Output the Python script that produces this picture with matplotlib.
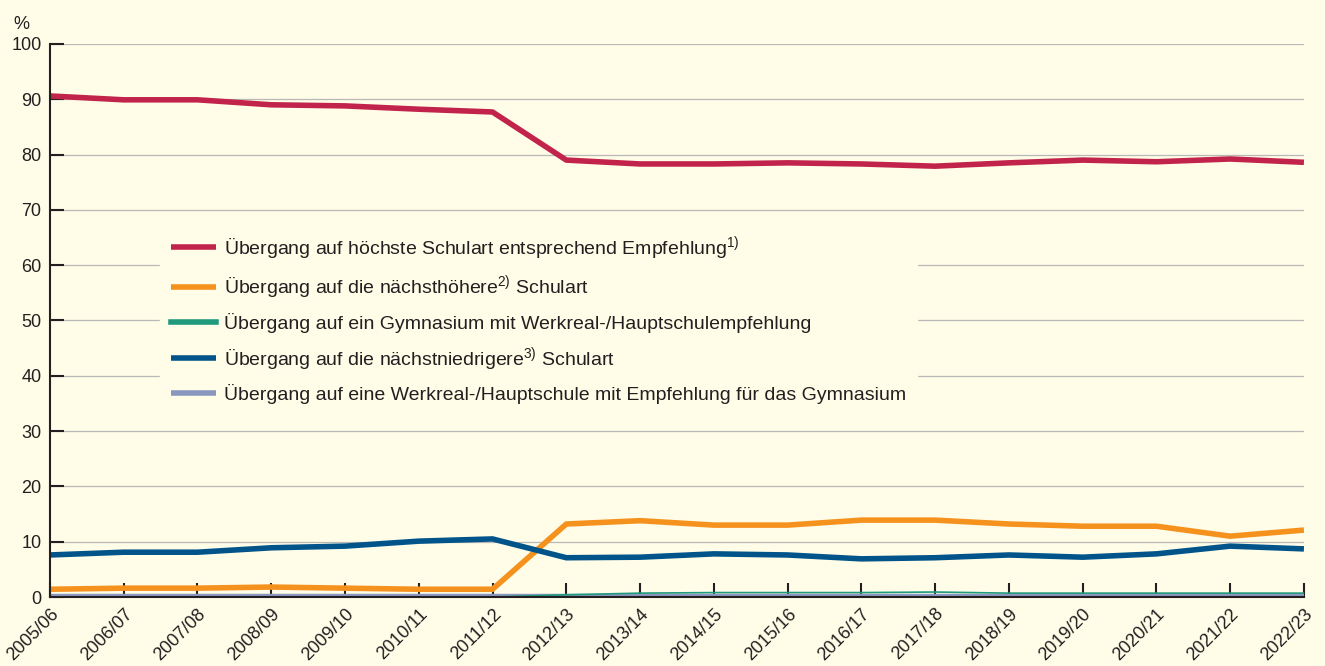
import matplotlib
matplotlib.use("Agg")
import matplotlib.pyplot as plt
from matplotlib import font_manager

BG, INK, GRID = "#fffde8", "#231f20", "#b8b8b8"
RED, ORANGE, GREEN, BLUE, PURPLE = "#c1234a", "#f5921e", "#1f9a7c", "#00548a", "#8a97bf"

names = {f.name for f in font_manager.fontManager.ttflist}
fam = ["Liberation Sans Narrow", "Liberation Sans", "DejaVu Sans"]
fam = [f for f in fam if f in names] or ["DejaVu Sans"]
plt.rcParams.update({"font.family": fam, "mathtext.default": "regular",
                     "figure.facecolor": BG, "axes.facecolor": BG, "savefig.facecolor": BG,
                     "text.color": INK, "xtick.color": INK, "ytick.color": INK})

YEARS = ["2005/06", "2006/07", "2007/08", "2008/09", "2009/10", "2010/11", "2011/12", "2012/13",
         "2013/14", "2014/15", "2015/16", "2016/17", "2017/18", "2018/19", "2019/20", "2020/21",
         "2021/22", "2022/23"]
hoechste = [90.6, 89.9, 89.9, 89.0, 88.8, 88.2, 87.7, 79.0, 78.3, 78.3, 78.5, 78.3, 77.9, 78.5,
            79.0, 78.7, 79.2, 78.6]
hoehere = [1.4, 1.6, 1.6, 1.8, 1.6, 1.4, 1.4, 13.2, 13.8, 13.0, 13.0, 13.9, 13.9, 13.2, 12.8,
           12.8, 11.0, 12.1]
gym_wrs = [0.0, 0.0, 0.0, 0.0, 0.0, 0.0, 0.0, 0.4, 0.7, 0.8, 0.8, 0.8, 0.9, 0.7, 0.7, 0.7,
           0.7, 0.7]
niedrigere = [7.6, 8.1, 8.1, 8.9, 9.2, 10.1, 10.5, 7.1, 7.2, 7.8, 7.6, 6.9, 7.1, 7.6, 7.2, 7.8,
              9.2, 8.7]
wrs_gym = [0.3, 0.3, 0.3, 0.3, 0.3, 0.3, 0.3, 0.3, 0.3, 0.3, 0.3, 0.3, 0.3, 0.3, 0.3, 0.3,
           0.3, 0.3]

LABELS = ["Übergang auf höchste Schulart entsprechend Empfehlung$^{1)}$",
          "Übergang auf die nächsthöhere$^{2)}$ Schulart",
          "Übergang auf ein Gymnasium mit Werkreal-/Hauptschulempfehlung",
          "Übergang auf die nächstniedrigere$^{3)}$ Schulart",
          "Übergang auf eine Werkreal-/Hauptschule mit Empfehlung für das Gymnasium"]

fig = plt.figure(figsize=(13.25, 6.66), dpi=100)
ax = fig.add_axes([0.0377, 0.1036, 0.9464, 0.8304])
x = range(len(YEARS))
lw = 4.0
ax.plot(x, hoechste, color=RED, lw=lw, label=LABELS[0], zorder=4, solid_capstyle="butt")
ax.plot(x, hoehere, color=ORANGE, lw=lw, label=LABELS[1], zorder=4, solid_capstyle="butt")
ax.plot(x, gym_wrs, color=GREEN, lw=1.2, label=LABELS[2], zorder=4)
ax.plot(x, niedrigere, color=BLUE, lw=lw, label=LABELS[3], zorder=4, solid_capstyle="butt")
ax.plot(x, wrs_gym, color=PURPLE, lw=2.5, label=LABELS[4], zorder=3, solid_capstyle="butt")

ax.set_xlim(0, len(YEARS) - 1)
ax.set_ylim(0, 100)
ax.set_yticks(range(0, 101, 10))
ax.set_xticks(list(x))
ax.set_xticklabels(YEARS, rotation=45, ha="right", va="top", rotation_mode="anchor", fontsize=13)
ax.tick_params(axis="y", direction="in", length=10, width=1.5, labelsize=13, pad=6)
ax.tick_params(axis="x", direction="in", length=10, width=1.5, pad=6)
for s in ["top", "right"]:
    ax.spines[s].set_visible(False)
for s in ["left", "bottom"]:
    ax.spines[s].set_color(INK)
    ax.spines[s].set_linewidth(1.5)
    ax.spines[s].set_zorder(5)
ax.yaxis.grid(True, color=GRID, linewidth=0.9, zorder=0)
ax.set_axisbelow(True)

leg = ax.legend(loc="upper left", bbox_to_anchor=(0.088, 0.676), frameon=True, fontsize=14,
                handlelength=2.3, handletextpad=0.45, labelspacing=0.6, borderpad=0.55,
                borderaxespad=0)
leg.get_frame().set_facecolor(BG)
leg.get_frame().set_edgecolor(BG)
leg.get_frame().set_alpha(1)
leg.get_frame().set_boxstyle("square", pad=0)
for h in leg.get_lines():
    h.set_linewidth(4.0)

fig.text(0.010, 0.963, "%", fontsize=13, ha="left", va="center")
fig.savefig("out.png", dpi=100)
